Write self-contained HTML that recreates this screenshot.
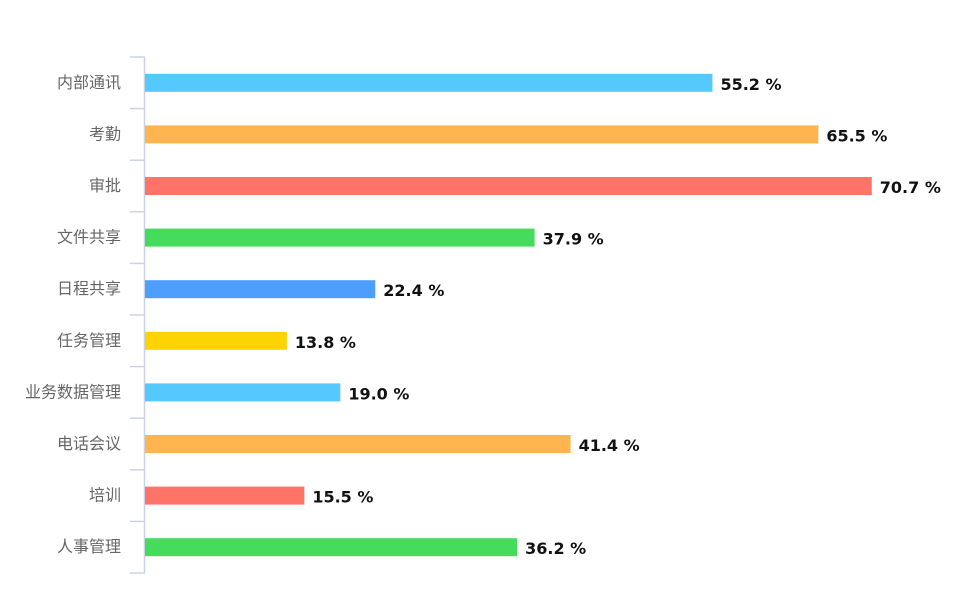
<!DOCTYPE html>
<html><head><meta charset="utf-8"><style>
html,body{margin:0;padding:0;background:#fff;}
svg{display:block;}
</style></head><body>
<svg id="chart" width="960" height="597" xmlns="http://www.w3.org/2000/svg"></svg>
<script>
const categories = ["内部通讯","考勤","审批","文件共享","日程共享","任务管理","业务数据管理","电话会议","培训","人事管理"];
const values = [55.2,65.5,70.7,37.9,22.4,13.8,19.0,41.4,15.5,36.2];
const colors = ["#55c8fd","#ffb54f","#ff7466","#45db5d","#4d9eff","#ffd300","#55c8fd","#ffb54f","#ff7466","#45db5d"];
const svg = document.getElementById('chart');
const NS = 'http://www.w3.org/2000/svg';
const x0 = 145, pxPer = 10.28, yTop = 57, yBot = 573;
const band = (yBot - yTop) / categories.length;
function xScale(v){ return x0 + v * pxPer; }
function yCenter(i){ return yTop + band * (i + 0.5); }
function mk(tag, attrs){ const e = document.createElementNS(NS, tag); for (const k in attrs) e.setAttribute(k, attrs[k]); svg.appendChild(e); return e; }
const axis = mk('line', {x1:x0-0.5, x2:x0-0.5, y1:yTop, y2:yBot, stroke:'#c9d3e6', 'stroke-width':1.5});


for (let i = 0; i <= categories.length; i++) {
  const y = yTop + band * i;
  const t = mk('line', {x1:130, x2:x0, y1:y, y2:y, stroke:'#c9d3e6', 'stroke-width':1.5});
  
  
}
categories.forEach((c, i) => {
  const yc = yCenter(i);
  const lab = mk('text', {x:121, y:yc + 5, 'text-anchor':'end', 'font-size':16, fill:'#666', 'font-family':'"Liberation Sans","Noto Sans CJK SC",sans-serif'});
  lab.textContent = c;
  
  
  const bar = mk('rect', {x:x0, y:yc - 9, width:xScale(values[i]) - x0, height:18, fill:colors[i]});
  
  
  const v = mk('text', {x:xScale(values[i]) + 8, y:yc + 7, 'font-size':16, 'font-weight':'bold', fill:'#111', 'font-family':'"DejaVu Sans","Liberation Sans",sans-serif'});
  v.textContent = values[i].toFixed(1) + ' %';
  
  
});
</script>
</body></html>
